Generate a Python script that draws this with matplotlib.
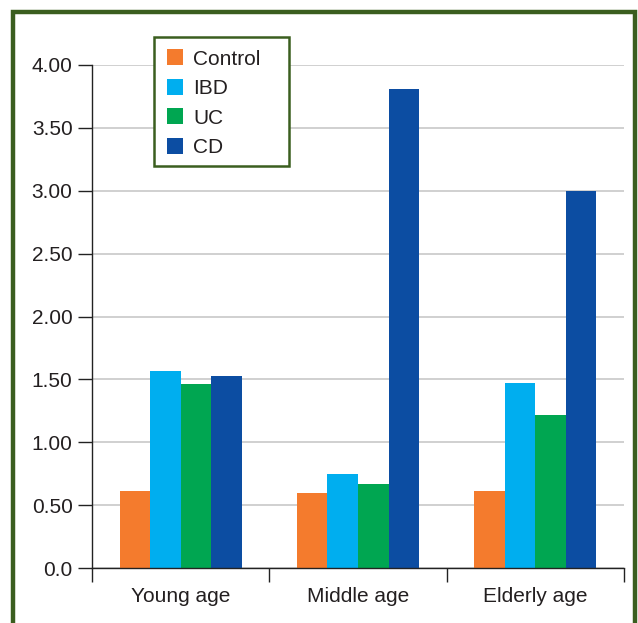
import numpy as np
import matplotlib.pyplot as plt
from matplotlib.patches import Rectangle

plt.rcParams['font.family'] = ['Liberation Sans', 'DejaVu Sans']

# ----------------------------------------------------------
# Data
# ----------------------------------------------------------
categories = ["Young age", "Middle age", "Elderly age"]
series = ["Control", "IBD", "UC", "CD"]
control = [0.61, 0.60, 0.61]
ibd = [1.57, 0.75, 1.47]
uc = [1.46, 0.67, 1.22]
cd = [1.53, 3.81, 3.00]
yticks = [0.0, 0.5, 1.0, 1.5, 2.0, 2.5, 3.0, 3.5, 4.0]
ytick_labels = ["0.0", "0.50", "1.00", "1.50", "2.00", "2.50", "3.00", "3.50", "4.00"]

colors = ["#F47B2D", "#00AEEF", "#00A651", "#0C4DA2"]
frame_green = "#3B5E1F"

# ----------------------------------------------------------
# Figure
# ----------------------------------------------------------
fig = plt.figure(figsize=(6.38, 6.23), dpi=100)
ax = fig.add_axes([92 / 638, 55 / 623, 532 / 638, 503 / 623])

values = [control, ibd, uc, cd]
centers = np.arange(len(categories)) + 0.5
width = 0.172
for i, (name, vals) in enumerate(zip(series, values)):
    offs = (i - 1.5) * width
    ax.bar(centers + offs, vals, width, color=colors[i], label=name, zorder=3)

ax.set_xlim(0, len(categories))
ax.set_ylim(0, 4.0)
ax.set_yticks(yticks)
ax.set_yticklabels(ytick_labels)
ax.set_xticks(np.arange(len(categories) + 1))
ax.set_xticklabels([])
ax.set_xticks(centers, minor=True)
ax.set_xticklabels(categories, minor=True)
ax.tick_params(axis="x", which="major", direction="out", length=10, width=1, color="#222222")
ax.tick_params(axis="x", which="minor", length=0, pad=14, labelsize=15, labelcolor="#231F20")
ax.tick_params(axis="y", direction="out", length=10, width=1, color="#222222",
               labelsize=15, labelcolor="#231F20", pad=4)

ax.grid(axis="y", color="#D0D0D0", linewidth=1.4, zorder=0)
for s in ["top", "right"]:
    ax.spines[s].set_visible(False)
for s in ["left", "bottom"]:
    ax.spines[s].set_color("#222222")
    ax.spines[s].set_linewidth(1.0)
    ax.spines[s].set_zorder(4)

leg = ax.legend(loc="upper left", bbox_to_anchor=(62 / 532, 1 + 28 / 503),
                frameon=False, fontsize=15, handlelength=0.78,
                handleheight=0.78, handletextpad=0.5, labelspacing=0.5,
                borderpad=0.6, borderaxespad=0)
leg.set_zorder(6)
for t in leg.get_texts():
    t.set_color("#231F20")

# legend box (wider on the right than matplotlib's padding allows)
ax.add_patch(Rectangle((154 / 638, 1 - 166 / 623), 135 / 638, 129 / 623,
                       transform=fig.transFigure, facecolor="white",
                       edgecolor=frame_green, linewidth=1.8, zorder=5,
                       clip_on=False))

# outer green frame
fig.patches.append(Rectangle((12.5 / 638, -0.05), 622 / 638, 1.05 - 11.5 / 623,
                             transform=fig.transFigure, fill=False,
                             edgecolor=frame_green, linewidth=3.2))

fig.savefig("out.png", dpi=100)
